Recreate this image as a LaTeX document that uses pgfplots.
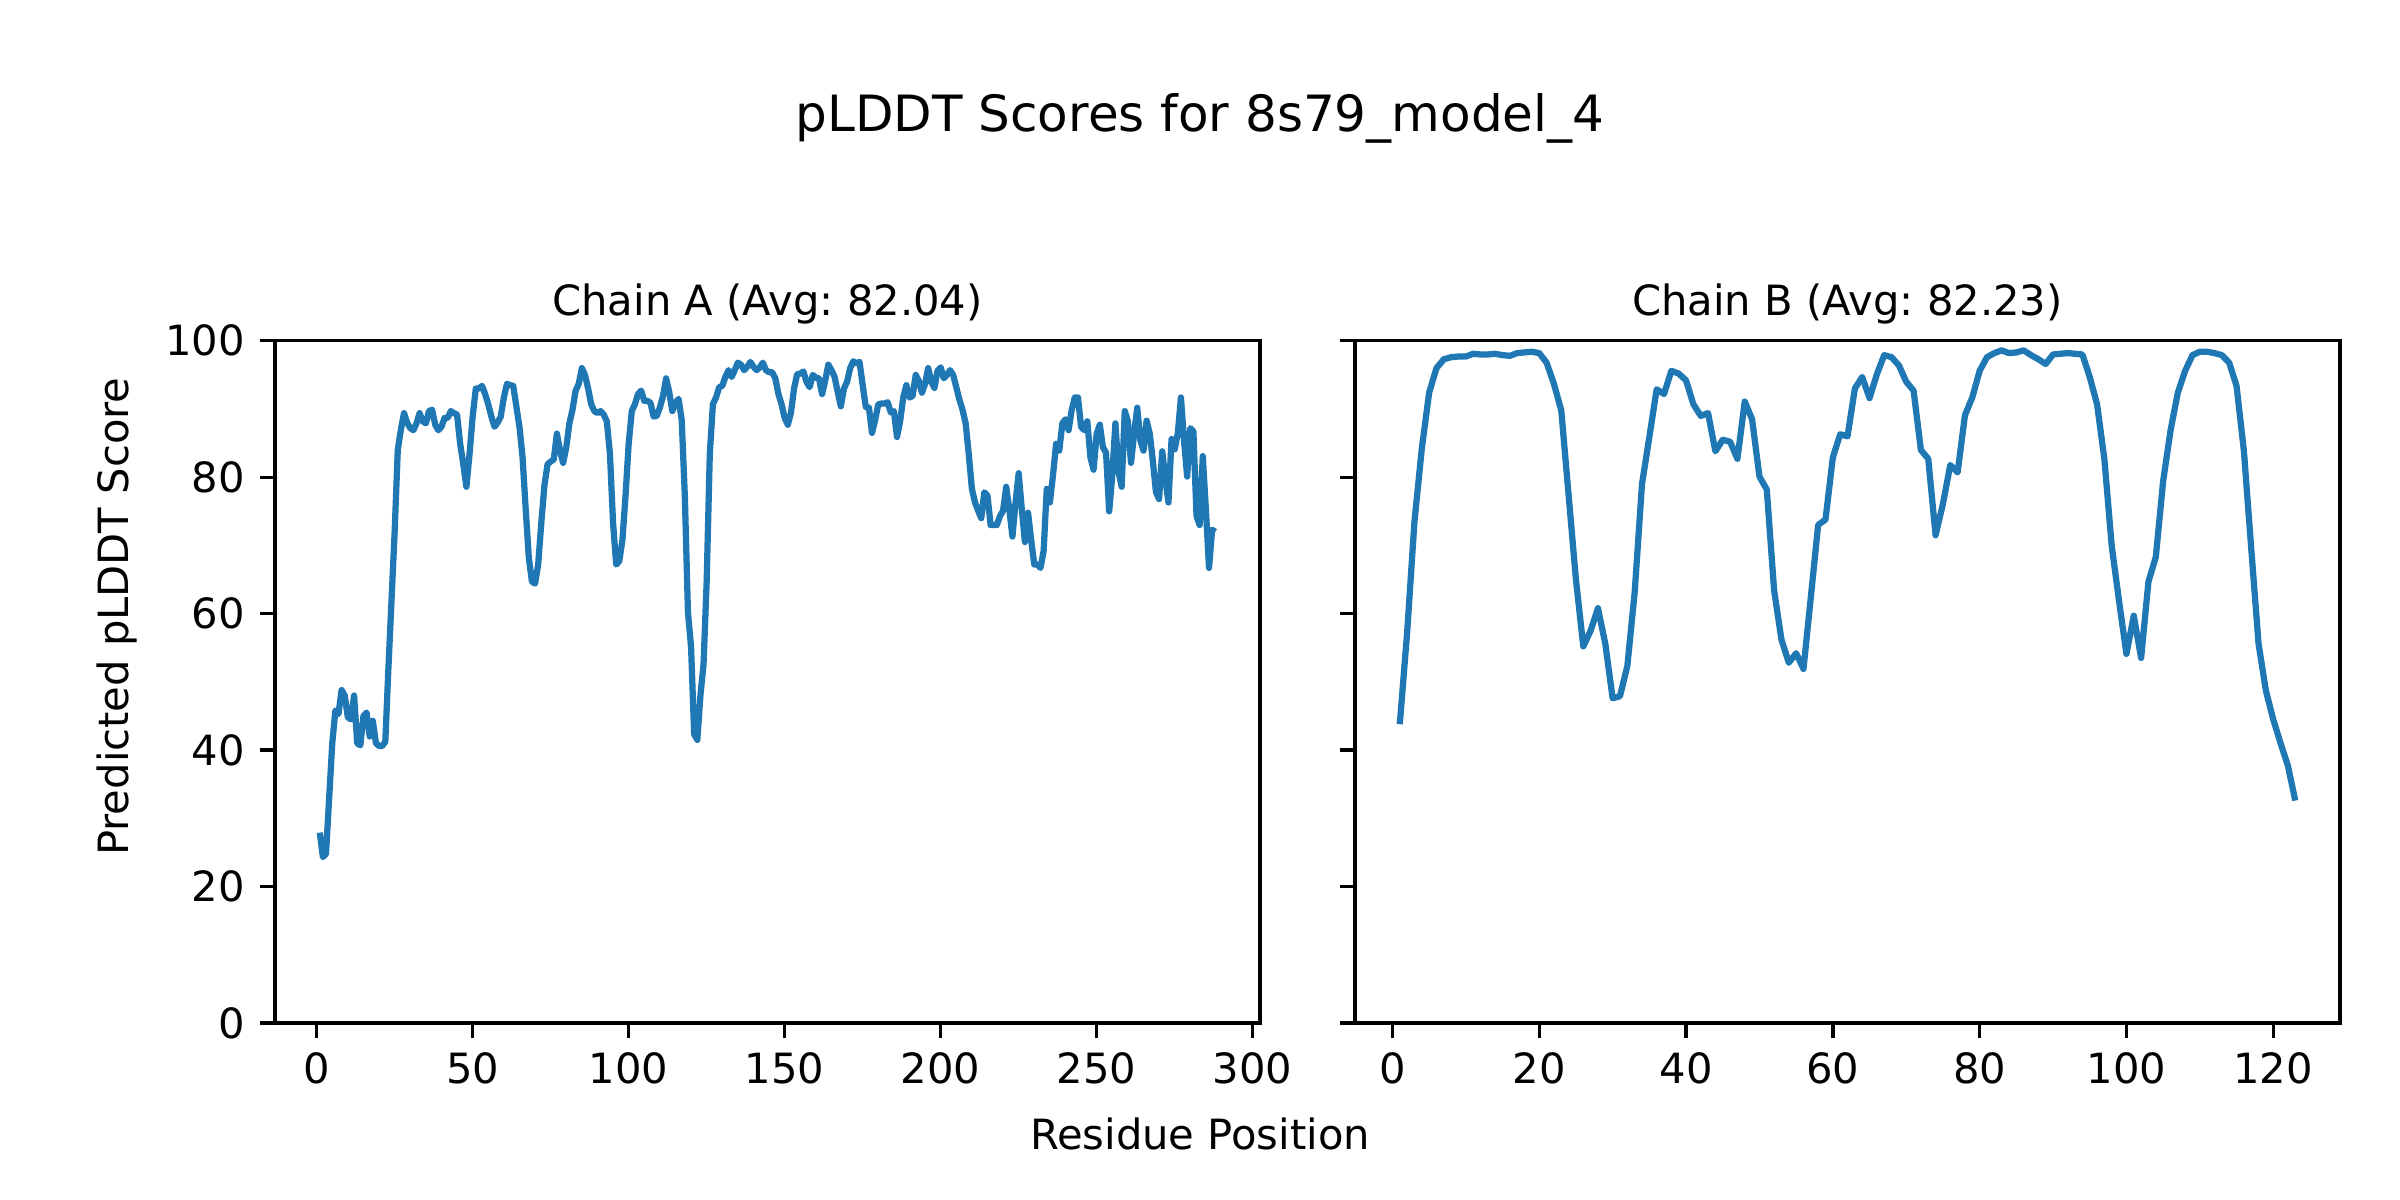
\documentclass[border=0pt]{standalone}
\usepackage{fontspec}
\setmainfont{DejaVu Sans}
\usepackage{pgfplots}
\usepackage{pgfplotstable}
\pgfplotsset{compat=1.18}
\definecolor{tabblue}{HTML}{1F77B4}
\frenchspacing

\pgfplotstableread{
r v
1 27.9
2 24.3
3 24.8
4 32.9
5 41.0
6 45.8
7 45.3
8 48.8
9 48.0
10 44.8
11 44.5
12 48.0
13 41.0
14 40.7
15 45.0
16 45.5
17 42.0
18 44.3
19 41.0
20 40.6
21 40.6
22 41.2
23 52
24 62
25 72
26 84
27 87
28 89.4
29 88.0
30 87.2
31 86.9
32 87.9
33 89.4
34 88.2
35 87.9
36 89.7
37 89.9
38 87.7
39 86.9
40 87.4
41 88.7
42 88.7
43 89.7
44 89.4
45 89.2
46 84.9
47 81.9
48 78.6
49 83.4
50 88.9
51 93.0
52 93.0
53 93.4
54 92.2
55 90.7
56 88.9
57 87.4
58 88.0
59 88.9
60 91.7
61 93.7
62 93.5
63 93.4
64 90.4
65 87.4
66 82.9
67 75.3
68 68.2
69 64.7
70 64.4
71 67.2
72 73.3
73 78.8
74 81.9
75 82.3
76 82.6
77 86.4
78 83.9
79 82.1
80 84.4
81 87.9
82 89.9
83 92.7
84 93.7
85 96.0
86 95.0
87 93.0
88 90.7
89 89.7
90 89.4
91 89.7
92 89.2
93 88.2
94 83.4
95 73.3
96 67.2
97 67.7
98 70.8
99 77.3
100 84.9
101 89.7
102 90.7
103 92.2
104 92.7
105 91.2
106 91.2
107 90.9
108 88.9
109 89.0
110 90.2
111 91.9
112 94.5
113 92.5
114 89.7
115 90.9
116 91.5
117 88.4
118 77.3
119 60.2
120 55.1
121 42.3
122 41.5
123 48.0
124 52.6
125 64.7
126 83.4
127 90.7
128 91.7
129 93.2
130 93.4
131 94.7
132 95.7
133 94.7
134 95.7
135 96.8
136 96.5
137 95.7
138 96.2
139 96.9
140 96.2
141 95.7
142 96.1
143 96.8
144 95.7
145 95.4
146 95.4
147 94.5
148 92.2
149 90.7
150 88.7
151 87.7
152 89.4
153 93.0
154 95.1
155 95.2
156 95.5
157 94.0
158 93.2
159 95.0
160 94.6
161 94.5
162 92.2
163 94.2
164 96.5
165 95.7
166 94.7
167 92.5
168 90.4
169 93.0
170 94.0
171 96.0
172 97.0
173 96.7
174 96.9
175 93.5
176 90.3
177 90.2
178 86.5
179 88.4
180 90.7
181 90.8
182 90.8
183 91.0
184 89.5
185 89.7
186 85.9
187 88.2
188 91.7
189 93.5
190 91.7
191 91.9
192 95.0
193 94.1
194 92.4
195 93.7
196 96.0
197 94.0
198 93.1
199 95.6
200 96.1
201 94.5
202 95.0
203 95.7
204 95.0
205 93.2
206 91.4
207 89.9
208 87.9
209 83.4
210 78.3
211 76.3
212 75.1
213 74.0
214 77.8
215 77.3
216 73.0
217 73.0
218 73.0
219 74.3
220 75.1
221 78.6
222 75.3
223 71.3
224 76.3
225 80.6
226 75.3
227 70.5
228 74.8
229 70.8
230 67.2
231 67.2
232 66.7
233 69.2
234 78.3
235 76.3
236 80.3
237 84.9
238 83.9
239 87.9
240 88.5
241 86.9
242 89.9
243 91.7
244 91.7
245 87.4
246 86.9
247 88.2
248 82.9
249 81.1
250 86.4
251 87.7
252 84.4
253 83.6
254 75.0
255 80.3
256 87.9
257 80.8
258 78.6
259 89.7
260 88.2
261 82.1
262 86.4
263 90.2
264 85.4
265 83.9
266 88.3
267 86.4
268 82.4
269 77.8
270 76.8
271 83.8
272 79.8
273 76.3
274 85.6
275 84.1
276 86.4
277 91.7
278 85.4
279 80.1
280 87.2
281 86.7
282 74.3
283 73.0
284 83.1
285 75.3
286 66.7
287 72.3
288 72.0
}\chainA

\pgfplotstableread{
r v
1 43.8
2 57.2
3 73.5
4 84.2
5 92.4
6 96.0
7 97.3
8 97.6
9 97.7
10 97.7
11 98.1
12 98.0
13 98.0
14 98.1
15 97.9
16 97.8
17 98.2
18 98.3
19 98.4
20 98.2
21 96.8
22 93.7
23 89.8
24 77.4
25 65.0
26 55.2
27 57.5
28 60.8
29 55.6
30 47.6
31 47.9
32 52.3
33 63.1
34 79.0
35 85.9
36 92.9
37 92.2
38 95.6
39 95.2
40 94.2
41 90.7
42 89.0
43 89.4
44 83.8
45 85.5
46 85.2
47 82.7
48 91.1
49 88.5
50 80.1
51 78.2
52 63.4
53 56.2
54 52.8
55 54.2
56 51.9
57 62.4
58 73.0
59 73.8
60 82.9
61 86.3
62 86.0
63 93.0
64 94.7
65 91.6
66 95.1
67 97.9
68 97.6
69 96.4
70 94.0
71 92.7
72 84.0
73 82.7
74 71.5
75 76.1
76 81.8
77 80.7
78 89.1
79 91.7
80 95.6
81 97.6
82 98.2
83 98.6
84 98.2
85 98.3
86 98.6
87 97.9
88 97.3
89 96.6
90 98.0
91 98.1
92 98.2
93 98.1
94 98.0
95 94.7
96 90.7
97 82.6
98 69.9
99 61.8
100 54.1
101 59.7
102 53.5
103 64.7
104 68.3
105 79.4
106 86.8
107 92.4
108 95.6
109 97.9
110 98.4
111 98.4
112 98.2
113 97.9
114 96.8
115 93.4
116 83.9
117 69.6
118 55.6
119 48.7
120 44.5
121 41.0
122 37.7
123 32.6
}\chainB

\pgfplotsset{
  pl/.style={
    scale only axis, anchor=south west,
    width=236.4bp, height=163.7bp,
    ymin=0, ymax=100, ytick={0,20,...,100},
    tick align=outside, major tick length=3.5bp,
    every tick/.style={line width=0.8bp, black},
    axis line style={line width=0.8bp},
    xtick pos=bottom, ytick pos=left,
    /pgf/number format/assume math mode=true,
    tick label style={font=\fontsize{10bp}{12bp}\selectfont, inner sep=0pt},
    xticklabel style={yshift=-3.5bp},
    yticklabel style={xshift=-3.5bp},
    title style={at={(0.5,1)}, anchor=base, yshift=0bp, inner sep=0pt,
      font=\fontsize{10bp}{12bp}\selectfont},
  },
}

\begin{document}
\fontsize{10bp}{12bp}\selectfont
\begin{tikzpicture}
\path[use as bounding box] (0,0) rectangle (576bp,288bp);
\begin{axis}[pl, at={(66bp,42.5bp)},
  xmin=-13.35, xmax=302.35, xtick={0,50,...,300},
  title={Chain A (Avg: 82.04)}]
\addplot[tabblue, line width=1.5bp, line join=round] table[x=r,y=v] {\chainA};
\end{axis}
\begin{axis}[pl, at={(325.2bp,42.5bp)},
  xmin=-5.1, xmax=129.1, xtick={0,20,...,120}, yticklabels={},
  title={Chain B (Avg: 82.23)}]
\addplot[tabblue, line width=1.5bp, line join=round] table[x=r,y=v] {\chainB};
\end{axis}
\node[font=\fontsize{12bp}{14bp}\selectfont] at (288bp,259.7bp) {pLDDT Scores for 8s79\_model\_4};
\node[anchor=base] at (288bp,12.2bp) {Residue Position};
\node[rotate=90] at (28.2bp,140bp) {Predicted pLDDT Score};
\end{tikzpicture}
\end{document}
